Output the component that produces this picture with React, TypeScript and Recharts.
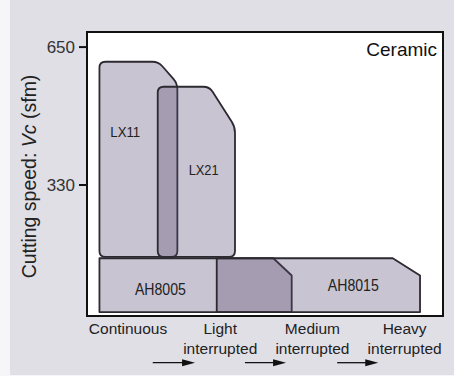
import { ComposedChart, XAxis, YAxis, ReferenceArea, Label } from 'recharts'

// categories on the x axis (cutting conditions)
const conditionLines = [
  ['Continuous'],
  ['Light', 'interrupted'],
  ['Medium', 'interrupted'],
  ['Heavy', 'interrupted'],
]
const conditionIndex = [0, 1, 2, 3]

// cutting speed ticks (sfm)
const speedTicks = [330, 650]
const speedDomain = [26, 685]
const conditionDomain = [-0.445, 3.416]

// grade application areas
const grades = ['LX11', 'LX21', 'AH8005', 'AH8015']
const gradeFrom = [-0.31, 0.322, -0.31, 0.962]
const gradeTo = [0.535, 1.16, 1.775, 3.167]
const gradeChamferX = [0.329, 0.882, 1.576, 2.871]
const gradeLow = [163, 163, 35, 35]
const gradeHigh = [616, 558, 160, 160]
const gradeChamferY = [566, 465, 120, 120]
const gradeLabelX = [-0.03, 0.82, 0.351, 2.443]
const gradeLabelY = [455, 365, 88, 96]
const gradeRounded = [true, true, false, false]

// arrows between the conditions
const arrowFrom = [0.268, 1.268, 2.268]
const arrowTo = [0.727, 1.714, 2.714]

const FONT = '"Liberation Sans", Arial, Helvetica, sans-serif'
const FILL = 'rgba(91,76,116,0.33)'
const EDGE = '#2c2a30'

function roundedPath(pts: number[][], r: number) {
  const n = pts.length
  let d = ''
  for (let i = 0; i < n; i++) {
    const prev = pts[(i - 1 + n) % n]
    const cur = pts[i]
    const next = pts[(i + 1) % n]
    const l1 = Math.hypot(prev[0] - cur[0], prev[1] - cur[1])
    const l2 = Math.hypot(next[0] - cur[0], next[1] - cur[1])
    const rr = Math.min(r, l1 / 2, l2 / 2)
    const a = [cur[0] + (prev[0] - cur[0]) / l1 * rr, cur[1] + (prev[1] - cur[1]) / l1 * rr]
    const b = [cur[0] + (next[0] - cur[0]) / l2 * rr, cur[1] + (next[1] - cur[1]) / l2 * rr]
    d += `${i === 0 ? 'M' : 'L'}${a[0]},${a[1]} Q${cur[0]},${cur[1]} ${b[0]},${b[1]} `
  }
  return d + 'Z'
}

function GradeShape(props: any) {
  const { x, y, width, height, index } = props
  const i = index
  const px = (v: number) => x + (v - gradeFrom[i]) / (gradeTo[i] - gradeFrom[i]) * width
  const py = (v: number) => y + (gradeHigh[i] - v) / (gradeHigh[i] - gradeLow[i]) * height
  const right = x + width
  const bottom = y + height
  const pts = [
    [x, bottom],
    [x, y],
    [px(gradeChamferX[i]), y],
    [right, py(gradeChamferY[i])],
    [right, bottom],
  ]
  const isTop = gradeRounded[i]
  const d = isTop ? roundedPath(pts, 6) : roundedPath(pts, 0.01)
  return (
    <g>
      <path d={d} fill={FILL} stroke={EDGE} strokeWidth={1.8} strokeLinejoin="round" />
      <text
        x={px(gradeLabelX[i])} y={py(gradeLabelY[i])}
        textAnchor="middle" dominantBaseline="central"
        fontSize={isTop ? 15.5 : 16} fill="#222" fontFamily={FONT}
        textLength={isTop ? 30 : 51} lengthAdjust="spacingAndGlyphs"
      >
        {grades[i]}
      </text>
    </g>
  )
}

function FrameShape(props: any) {
  const { x, y, width, height } = props
  return (
    <g>
      <rect x={x} y={y} width={width} height={height} fill="#fff" stroke="#111" strokeWidth={2} />
      <text x={x + width - 6} y={y + 24} textAnchor="end" fontSize={19} fill="#111" fontFamily={FONT}>
        Ceramic
      </text>
    </g>
  )
}

function ArrowShape(props: any) {
  const { x, y, width, height } = props
  const yy = y + height + 46.7
  const end = x + width
  return (
    <g>
      <line x1={x} y1={yy} x2={end - 10} y2={yy} stroke="#111" strokeWidth={1.3} />
      <polygon points={`${end - 13},${yy - 3.5} ${end},${yy} ${end - 13},${yy + 3.5}`} fill="#111" />
    </g>
  )
}

function ConditionTick(props: any) {
  const { x, y, payload } = props
  const lines = conditionLines[payload.value] || []
  return (
    <text x={x} y={y} textAnchor="middle" fontSize={15.5} fill="#222" fontFamily={FONT}>
      {lines.map((l, k) => (
        <tspan key={k} x={x} dy={k === 0 ? 17.5 : 20}>{l}</tspan>
      ))}
    </text>
  )
}

function SpeedTitle(props: any) {
  const vb = props.viewBox || { x: 27, y: 32, width: 60, height: 284 }
  const tx = vb.x + 9.2
  const ty = vb.y + vb.height / 2 + 2.5
  return (
    <text
      x={tx} y={ty} transform={`rotate(-90 ${tx} ${ty})`}
      textAnchor="middle" fontSize={19.5} fill="#222" fontFamily={FONT}
    >
      Cutting speed: <tspan fontStyle="italic">Vc</tspan> (sfm)
    </text>
  )
}

export default function App() {
  const data = conditionIndex.map(i => ({ x: i }))
  return (
    <div style={{ position: 'absolute', left: 0, top: 0, width: 454, height: 376, background: '#f6f6f8', fontFamily: FONT }}>
      <div style={{ position: 'absolute', left: 10, top: 0, width: 444, height: 375, background: '#e1dfe6' }} />
      <div style={{ position: 'absolute', left: 0, top: 0 }}>
        <ComposedChart width={454} height={376} data={data} margin={{ top: 32, right: 11, bottom: 10, left: 27 }}>
          <XAxis
            dataKey="x" type="number" domain={conditionDomain} allowDataOverflow
            ticks={conditionIndex} interval={0} tick={<ConditionTick />}
            tickLine={false} axisLine={false} tickSize={0} tickMargin={0} height={50}
          />
          <YAxis
            type="number" domain={speedDomain} allowDataOverflow ticks={speedTicks} interval={0}
            width={60} axisLine={false} tickSize={8} tickMargin={4}
            tickLine={{ stroke: '#111', strokeWidth: 2 }}
            tick={{ fontSize: 17, fill: '#333', fontFamily: FONT }}
          >
            <Label content={SpeedTitle} />
          </YAxis>
          <ReferenceArea
            x1={conditionDomain[0]} x2={conditionDomain[1]} y1={speedDomain[0]} y2={speedDomain[1]}
            ifOverflow="visible" shape={FrameShape}
          />
          {grades.map((g, i) => (
            <ReferenceArea
              key={g} x1={gradeFrom[i]} x2={gradeTo[i]} y1={gradeLow[i]} y2={gradeHigh[i]}
              ifOverflow="visible" shape={(p: any) => <GradeShape {...p} index={i} />}
            />
          ))}
          {arrowFrom.map((a, i) => (
            <ReferenceArea
              key={'arrow' + i} x1={a} x2={arrowTo[i]} y1={speedDomain[0]} y2={speedDomain[0] + 1}
              ifOverflow="visible" shape={ArrowShape}
            />
          ))}
        </ComposedChart>
      </div>
    </div>
  )
}
